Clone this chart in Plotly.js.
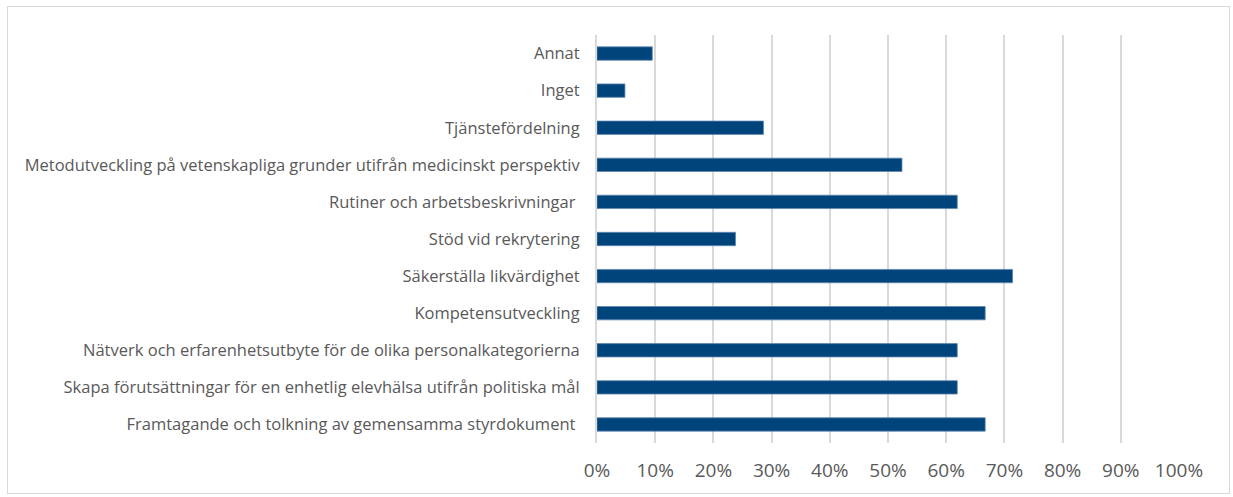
<!DOCTYPE html>
<html>
<head>
<meta charset="utf-8">
<script src="https://cdn.plot.ly/plotly-3.0.1.min.js"></script>
<style>
  html, body { margin: 0; padding: 0; background: #fff; }
  #frame { position: absolute; left: 7px; top: 6px; width: 1223px; height: 488px; border: 1px solid #d9d9d9; box-sizing: border-box; }
  #chart { position: absolute; left: 0; top: 0; width: 1233px; height: 497px; }
</style>
</head>
<body>
<div id="frame"></div>
<div id="chart"></div>
<script>
// Categories listed top to bottom as in the reference
const categories = [
  "Annat",
  "Inget",
  "Tjänstefördelning",
  "Metodutveckling på vetenskapliga grunder utifrån medicinskt perspektiv",
  "Rutiner och arbetsbeskrivningar\u00a0",
  "Stöd vid rekrytering",
  "Säkerställa likvärdighet",
  "Kompetensutveckling",
  "Nätverk och erfarenhetsutbyte för de olika personalkategorierna",
  "Skapa förutsättningar för en enhetlig elevhälsa utifrån politiska mål",
  "Framtagande och tolkning av gemensamma styrdokument\u00a0"
];
const values = [9.5, 4.8, 28.6, 52.4, 61.9, 23.8, 71.4, 66.7, 61.9, 61.9, 66.7];
const xTickValues = [0, 10, 20, 30, 40, 50, 60, 70, 80, 90, 100];
const xTickLabels = ["0%", "10%", "20%", "30%", "40%", "50%", "60%", "70%", "80%", "90%", "100%"];

const trace = {
  type: "bar",
  orientation: "h",
  y: categories,
  x: values,
  width: 0.36,
  marker: { color: "#00447c", line: { color: "#5f87b0", width: 0.8 } },
  hoverinfo: "x+y"
};

const layout = {
  width: 1233,
  height: 497,
  margin: { l: 597, r: 54, t: 35, b: 54 },
  paper_bgcolor: "rgba(0,0,0,0)",
  plot_bgcolor: "rgba(0,0,0,0)",
  showlegend: false,
  font: { family: "Open Sans, sans-serif", color: "#595959" },
  xaxis: {
    range: [0, 100],
    tickvals: xTickValues,
    ticktext: xTickLabels,
    showgrid: true,
    gridcolor: "#d9d9d9",
    gridwidth: 2,
    zeroline: false,
    showline: false,
    ticks: "",
    ticklabelstandoff: 14,
    tickfont: { size: 19, color: "#595959", family: "Open Sans, sans-serif" },
    fixedrange: true
  },
  yaxis: {
    autorange: "reversed",
    showgrid: false,
    zeroline: false,
    showline: true,
    linecolor: "#d9d9d9",
    linewidth: 2,
    ticks: "",
    ticklabelstandoff: 12,
    tickfont: { size: 16.5, color: "#595959", family: "Open Sans, sans-serif" },
    fixedrange: true
  }
};

Plotly.newPlot("chart", [trace], layout, { displayModeBar: false, staticPlot: true });
</script>
</body>
</html>
